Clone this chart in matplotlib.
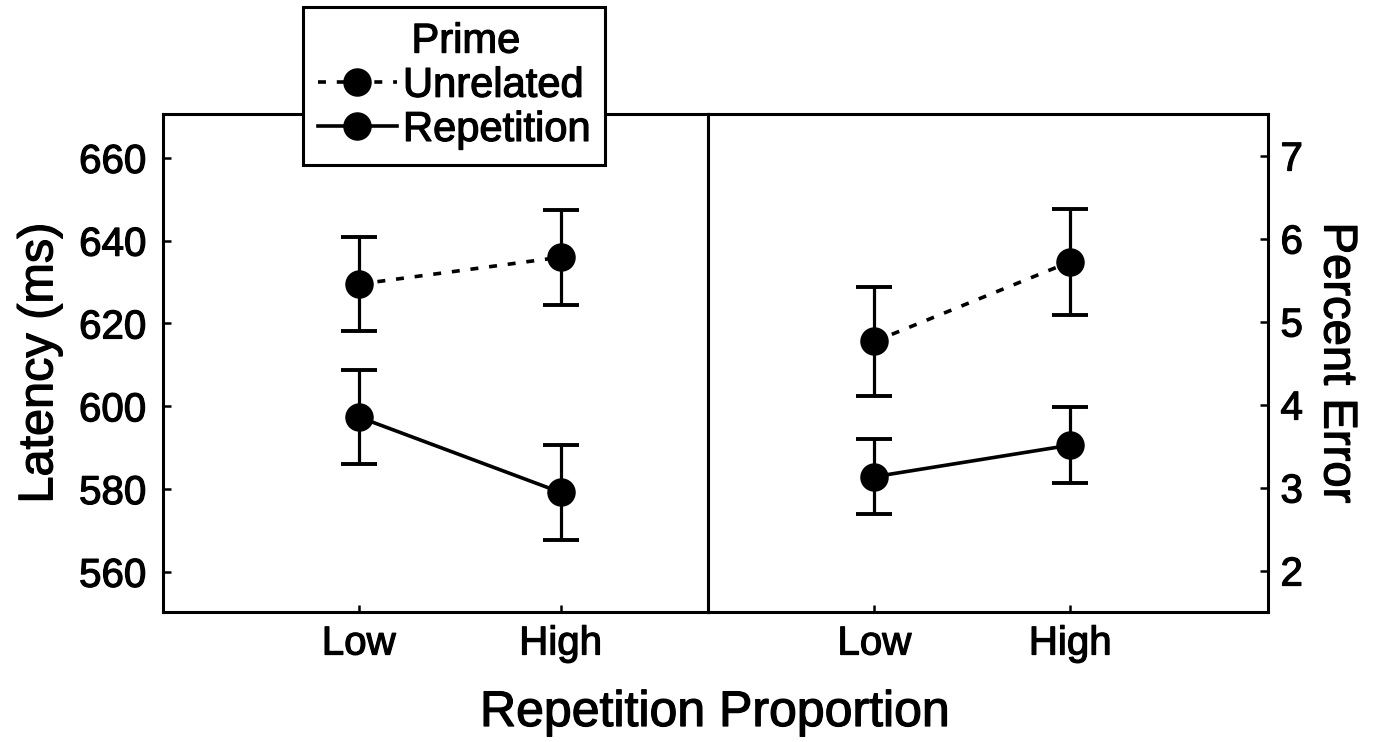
import matplotlib
matplotlib.use('Agg')
import matplotlib.pyplot as plt
import matplotlib.patheffects as pe
import numpy as np

plt.rcParams['font.family'] = ['Liberation Sans', 'DejaVu Sans']

levels = ['Low', 'High']
series = ['Unrelated', 'Repetition']

# latency (ms)
lat_unrel = [629.5, 636.0]
lat_unrel_err = [11.3, 11.5]
lat_rep = [597.4, 579.2]
lat_rep_err = [11.3, 11.5]

# percent error
err_unrel = [4.76, 5.72]
err_unrel_err = [0.66, 0.64]
err_rep = [3.13, 3.51]
err_rep_err = [0.45, 0.46]

fig = plt.figure(figsize=(13.83, 7.42), dpi=100)
W, H = 1383, 742
top = 1 - 114 / H
bot = 1 - 612 / H
axl = fig.add_axes([163 / W, bot, (708 - 163) / W, top - bot])
axr = fig.add_axes([708 / W, bot, (1268 - 708) / W, top - bot])

x = np.arange(1, len(levels) + 1)
lw = 2.6
dashed = (0, (2.2, 3.0))
common = dict(color='black', marker='o', markersize=19.5, linewidth=lw,
              elinewidth=2.3, capsize=13, capthick=2.8)

h1 = axl.errorbar(x, lat_unrel, yerr=lat_unrel_err, linestyle=dashed, **common)
h2 = axl.errorbar(x, lat_rep, yerr=lat_rep_err, linestyle='-', **common)
axr.errorbar(x, err_unrel, yerr=err_unrel_err, linestyle=dashed, **common)
axr.errorbar(x, err_rep, yerr=err_rep_err, linestyle='-', **common)

axl.set_xlim(0.03, 2.73)
axr.set_xlim(0.15, 3.01)
axl.set_ylim(550.3, 670.6)
axr.set_ylim(1.5, 7.5)

axl.set_yticks([560, 580, 600, 620, 640, 660])
axr.set_yticks([2, 3, 4, 5, 6, 7])
for ax in (axl, axr):
    ax.set_xticks(x)
    ax.set_xticklabels(levels)
    for s in ax.spines.values():
        s.set_linewidth(2.2)
    ax.tick_params(axis='x', direction='in', length=5, width=1.8, pad=9, labelsize=29)
    ax.tick_params(axis='y', direction='in', length=6, width=1.8, labelsize=29)

axl.tick_params(axis='y', pad=12)
axr.yaxis.tick_right()
axr.yaxis.set_label_position('right')
axr.tick_params(axis='y', pad=9)

axl.set_ylabel('Latency (ms)', fontsize=35, labelpad=12)
axr.set_ylabel('Percent Error', fontsize=34, rotation=270, labelpad=40)

fig.text(715 / W, 1 - 713 / H, 'Repetition Proportion', fontsize=36,
         ha='center', va='center')

leg = fig.legend([h1[0], h2[0]], series, title='Prime', loc='upper left',
                 bbox_to_anchor=(303 / W, 1 - 7 / H), bbox_transform=fig.transFigure,
                 borderaxespad=0, fontsize=30, title_fontsize=30, frameon=True,
                 fancybox=False, framealpha=1, edgecolor='black',
                 handlelength=1.9, handletextpad=0.15, labelspacing=0.1,
                 borderpad=0.35)
leg.get_frame().set_linewidth(2.2)
leg.get_title().set_position((12, 0))

# scanned print look: slightly heavier glyphs
fig.canvas.draw()
heavy = [pe.withStroke(linewidth=0.9, foreground='black')]
for t in fig.findobj(matplotlib.text.Text):
    if t.get_text():
        t.set_path_effects(heavy)
for ax in (axl, axr):
    for t in ax.get_xticklabels() + ax.get_yticklabels():
        t.set_path_effects(heavy)

fig.savefig('out.png', dpi=100)
